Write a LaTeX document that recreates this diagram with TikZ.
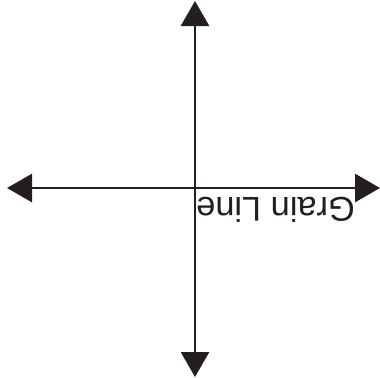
\documentclass[tikz,border=0pt]{standalone}
\usepackage{fontspec}
\setmainfont{Liberation Sans}
\usetikzlibrary{arrows.meta}
\definecolor{inkblack}{RGB}{35,31,32}

\begin{document}
\begin{tikzpicture}[x=1bp,y=-1bp,
    grainaxis/.style={line width=2.8bp,draw=inkblack,
      {Triangle[length=25bp,width=28bp]}-{Triangle[length=25bp,width=28bp]}}]
        \useasboundingbox (0,0) rectangle (380,378);
        \coordinate (top) at (195,1);
        \coordinate (bottom) at (195,377);
        \coordinate (left) at (7,188);
        \coordinate (right) at (380,188);
        \draw[grainaxis] (top) -- (bottom);
        \draw[grainaxis] (left) -- (right);
        \node[rotate=180,anchor=base west,inner sep=0,text=inkblack,
          font=\fontsize{34.5}{40}\selectfont] (grain) at (355,197.5) {Grain Line};
      \end{tikzpicture}
\end{document}
